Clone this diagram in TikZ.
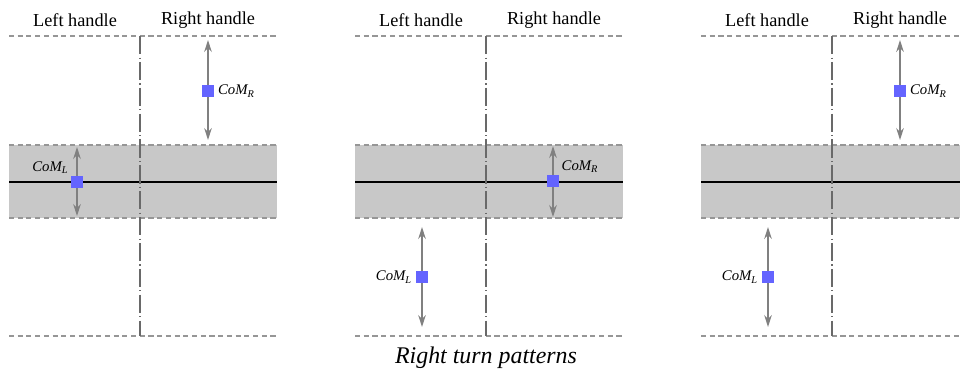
\documentclass[tikz,border=0pt]{standalone}
\usepackage{fontspec}
\setmainfont{Liberation Serif}
\usetikzlibrary{arrows.meta,positioning}
\definecolor{patbandgray}{RGB}{200,200,200}
\definecolor{patdashgray}{RGB}{150,150,150}
\definecolor{pataxisgray}{RGB}{105,105,105}
\definecolor{patarrowgray}{RGB}{128,128,128}
\definecolor{patcomblue}{RGB}{100,100,255}
\tikzset{
  bound line/.style={
    draw=patdashgray,
    line width=1.1pt,
    dash pattern=on 3.6pt off 2.6pt,
  },
  handle line/.style={
    draw=pataxisgray,
    line width=1.1pt,
    dash pattern=on 13pt off 2.3pt on 0.8pt off 2.3pt,
  },
  com arrow/.style={
    {Stealth[length=3mm,width=1.9mm]}-{Stealth[length=3mm,width=1.9mm]},
    line width=1pt,
    draw=patarrowgray,
  },
}

\begin{document}
\begin{tikzpicture}[x=1cm,y=1cm]
  \tikzstyle{com box}=[fill=patcomblue, minimum size=0.3cm, inner sep=0pt]
  \tikzstyle{com label}=[font=\fontsize{10.5}{12}\selectfont\itshape, inner sep=1.5pt]
  \tikzstyle{handle label}=[font=\fontsize{13}{15}\selectfont]

  \clip (0,0) rectangle (24,-9.4);

  % Frames: stance band, handle split and bounds
  \foreach \p in {0,1,2} {
    \begin{scope}[shift={(0.225+\p*8.65,0)}]
      \fill[patbandgray] (0,-3.625) rectangle (6.7,-5.45);
      \draw[black, line width=1.4pt] (0,-4.55) -- (6.7,-4.55);
      \draw[bound line] (0,-0.9) -- (6.7,-0.9);
      \draw[bound line] (0,-3.625) -- (6.7,-3.625);
      \draw[bound line] (0,-5.45) -- (6.7,-5.45);
      \draw[bound line] (0,-8.4) -- (6.7,-8.4);
      \draw[handle line] (3.275,-0.9) -- (3.275,-8.4);
      \node[handle label] (lefthandle\p) at (1.65,-0.5) {Left handle};
      \node[handle label] (righthandle\p) at (4.975,-0.5) {Right handle};
    \end{scope}
  }

  % First panel
  \begin{scope}[shift={(0.225,0)}]
    \coordinate (rtop1) at (4.975,-1.0);
    \coordinate (rbot1) at (4.975,-3.5);
    \coordinate (ltop1) at (1.7,-3.675);
    \coordinate (lbot1) at (1.7,-5.4);
    \draw[com arrow] (rtop1) -- (rbot1);
    \draw[com arrow] (ltop1) -- (lbot1);
    \node[com box] (comR1) at (4.975,-2.275) {};
    \node[com box] (comL1) at (1.7,-4.55) {};
    \node[com label, right=1pt of comR1] (labR1) {CoM\textsubscript{R}};
    \node[com label, anchor=south east] (labL1) at (comL1.north west) {CoM\textsubscript{L}};
  \end{scope}

  % Second panel
  \begin{scope}[shift={(8.875,0)}]
    \coordinate (rtop2) at (4.95,-3.65);
    \coordinate (rbot2) at (4.95,-5.425);
    \coordinate (ltop2) at (1.675,-5.675);
    \coordinate (lbot2) at (1.675,-8.175);
    \draw[com arrow] (rtop2) -- (rbot2);
    \draw[com arrow] (ltop2) -- (lbot2);
    \node[com box] (comR2) at (4.95,-4.525) {};
    \node[com box] (comL2) at (1.675,-6.925) {};
    \node[com label, anchor=south west] (labR2) at (comR2.north east) {CoM\textsubscript{R}};
    \node[com label, left=1pt of comL2] (labL2) {CoM\textsubscript{L}};
  \end{scope}

  % Third panel
  \begin{scope}[shift={(17.525,0)}]
    \coordinate (rtop3) at (4.975,-1.0);
    \coordinate (rbot3) at (4.975,-3.5);
    \coordinate (ltop3) at (1.675,-5.675);
    \coordinate (lbot3) at (1.675,-8.175);
    \draw[com arrow] (rtop3) -- (rbot3);
    \draw[com arrow] (ltop3) -- (lbot3);
    \node[com box] (comR3) at (4.975,-2.275) {};
    \node[com box] (comL3) at (1.675,-6.925) {};
    \node[com label, right=1pt of comR3] (labR3) {CoM\textsubscript{R}};
    \node[com label, left=1pt of comL3] (labL3) {CoM\textsubscript{L}};
  \end{scope}

  \node[font=\fontsize{17}{20}\selectfont\itshape] (caption) at (12.15,-8.95) {Right turn patterns};
\end{tikzpicture}
\end{document}
